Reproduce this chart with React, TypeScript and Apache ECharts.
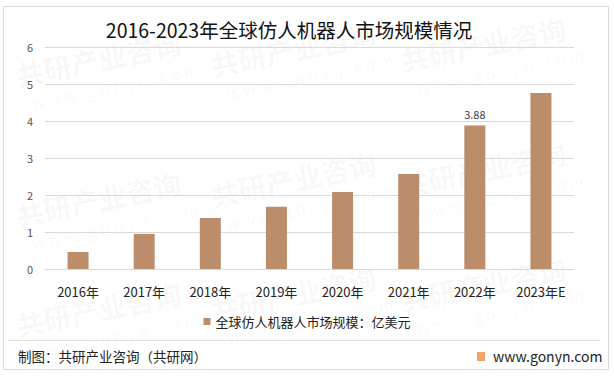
import React, { useEffect, useRef } from "react";
import * as echarts from "echarts";

const categories = ["2016年", "2017年", "2018年", "2019年", "2020年", "2021年", "2022年", "2023年E"];
const marketSize = [0.46, 0.95, 1.38, 1.68, 2.08, 2.57, 3.88, 4.76];
const labelledIndex = [6];
const seriesName = "全球仿人机器人市场规模：亿美元";
const titleText = "2016-2023年全球仿人机器人市场规模情况";
const sourceText = "制图：共研产业咨询（共研网）";
const siteText = "www.gonyn.com";
const watermarkCN = "共研产业咨询";
const watermarkEN = "w w w . g o n y n . c o m";

const FONT = '"Noto Sans CJK SC", "Noto Sans", sans-serif';

export default function App() {
  const ref = useRef<HTMLDivElement>(null);
  useEffect(() => {
    if (!ref.current) return;
    const chart = echarts.init(ref.current, null, { renderer: "svg" });
    const wm: any[] = [];
    const spots = [
      [20, 95], [215, 85], [405, 80], [20, 235], [215, 215], [405, 205],
      [20, 345], [215, 330], [405, 320],
    ];
    spots.forEach(([x, y]) => {
      wm.push({
        type: "group",
        x,
        y,
        rotation: 0.2,
        silent: true,
        z: -10,
        children: [
          { type: "text", x: 0, y: -34, style: { text: watermarkCN, font: `bold 28px ${FONT}`, fill: "rgba(0,0,0,0.035)" } },
          { type: "text", x: 10, y: 2, style: { text: watermarkEN, font: `16px ${FONT}`, fill: "rgba(0,0,0,0.035)" } },
        ],
      });
    });
    chart.setOption({
      animation: false,
      backgroundColor: "#ffffff",
      textStyle: { fontFamily: FONT },
      grid: { left: 45, right: 40, top: 47, bottom: 107, containLabel: false },
      legend: {
        data: [seriesName],
        top: 310,
        left: "center",
        icon: "rect",
        itemWidth: 7,
        itemHeight: 7,
        itemGap: 4,
        textStyle: { fontSize: 13, color: "#222", fontFamily: FONT },
      },
      xAxis: {
        type: "category",
        data: categories,
        axisLine: { show: true, lineStyle: { color: "#d9d9d9" } },
        axisTick: { show: false },
        axisLabel: { fontSize: 13, color: "#222", margin: 16, fontFamily: FONT },
      },
      yAxis: {
        type: "value",
        min: 0,
        max: 6,
        interval: 1,
        axisLine: { show: false },
        axisTick: { show: false },
        axisLabel: { fontSize: 11, color: "#555", margin: 12 },
        splitLine: { lineStyle: { color: "#d9d9d9" } },
      },
      series: [
        {
          name: seriesName,
          type: "bar",
          barWidth: 21,
          itemStyle: { color: "#BB8D6B" },
          data: marketSize.map((v, i) => ({
            value: v,
            label: {
              show: labelledIndex.includes(i),
              position: "top",
              distance: 6,
              fontSize: 11,
              color: "#404040",
            },
          })),
        },
      ],
      graphic: [
        ...wm,
        {
          type: "text",
          x: 289,
          y: 29,
          style: {
            text: titleText,
            font: `19.5px ${FONT}`,
            fill: "#111",
            align: "center",
            verticalAlign: "middle",
          },
        },
        {
          type: "rect",
          shape: { x: 3.5, y: 6.5, width: 605, height: 363 },
          style: { fill: "none", stroke: "#d9d9d9", lineWidth: 1 },
          silent: true,
        },
        {
          type: "line",
          shape: { x1: 8, y1: 340.5, x2: 600, y2: 340.5 },
          style: { stroke: "#e0e0e0", lineWidth: 1 },
        },
        {
          type: "text",
          x: 18,
          y: 356,
          style: { text: sourceText, font: `13.5px ${FONT}`, fill: "#222", verticalAlign: "middle" },
        },
        {
          type: "rect",
          shape: { x: 477, y: 352, width: 8, height: 9 },
          style: { fill: "#F4A46A" },
        },
        {
          type: "text",
          x: 493,
          y: 356,
          style: { text: siteText, font: `14px ${FONT}`, fill: "#222", verticalAlign: "middle" },
        },
      ],
    });
    return () => chart.dispose();
  }, []);
  return (
    <div
      ref={ref}
      style={{ position: "fixed", left: 0, top: 0, width: 614, height: 376 }}
    />
  );
}
